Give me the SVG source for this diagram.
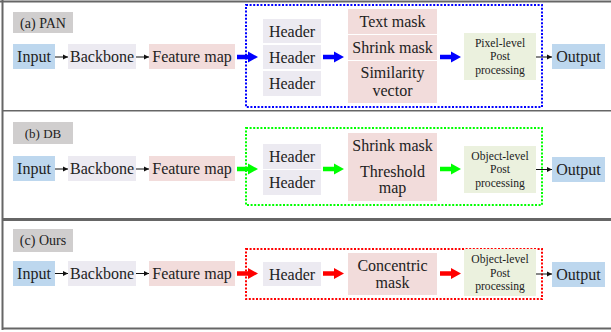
<svg xmlns="http://www.w3.org/2000/svg" xmlns:xlink="http://www.w3.org/1999/xlink" width="611" height="332" viewBox="0 0 611 332">
<style>
text{font-family:"Liberation Serif","DejaVu Serif",serif;fill:#222;text-anchor:middle}
.t16{font-size:16px}
.t14{font-size:14px}
.t13{font-size:13px}
.t11{font-size:11.6px}
.lbl{fill:#d0cece}
.in{fill:#bdd7ee}
.bb{fill:#eceaf1}
.fm{fill:#f2dcdb}
.pp{fill:#ebf1de}
.frame{stroke:#666;fill:none}
.thin{stroke:#111;stroke-width:1;fill:none;marker-end:url(#ah)}
.dot{fill:none;stroke-width:2;stroke-dasharray:2 1.6}
</style>
<defs>
<marker id="ah" markerWidth="6" markerHeight="6" refX="5" refY="3" orient="auto" markerUnits="userSpaceOnUse">
<path d="M0,0.6 L5,3 L0,5.4 Z" fill="#111"/>
</marker>
<path id="big" d="M0,-2.3 H11 V-5.6 L21,0 L11,5.6 V2.3 H0 Z"/>
</defs>
<g id="frame">
<line class="frame" x1="0" y1="1.5" x2="611" y2="1.5" stroke-width="2"/>
<line class="frame" x1="2.5" y1="0" x2="2.5" y2="330" stroke-width="2"/>
<line class="frame" x1="2" y1="110.8" x2="611" y2="110.8" stroke-width="1.6"/>
<line class="frame" x1="2" y1="219.5" x2="611" y2="219.5" stroke-width="3"/>
<line class="frame" x1="2" y1="328.5" x2="611" y2="328.5" stroke-width="2"/>
</g>
<!-- Panel A -->
<g id="a-label"><rect class="lbl" x="13" y="12" width="60" height="21"/><text class="t14" x="43" y="27.5">(a) PAN</text></g>
<g id="a-input"><rect class="in" x="13" y="44" width="42" height="25"/><text class="t16" x="34" y="62">Input</text></g>
<g id="a-backbone"><rect class="bb" x="68" y="44" width="68" height="25"/><text class="t16" x="102" y="62">Backbone</text></g>
<g id="a-feature"><rect class="fm" x="149" y="44" width="86" height="25"/><text class="t16" x="192" y="62">Feature map</text></g>
<g id="a-group"><rect class="dot" x="246" y="5" width="296" height="102" stroke="#0000ff"/></g>
<g id="a-header1"><rect class="bb" x="263" y="19" width="58" height="24"/><text class="t16" x="292" y="36.5">Header</text></g>
<g id="a-header2"><rect class="bb" x="263" y="45" width="58" height="24"/><text class="t16" x="292" y="62.5">Header</text></g>
<g id="a-header3"><rect class="bb" x="263" y="71" width="58" height="25"/><text class="t16" x="292" y="88.5">Header</text></g>
<g id="a-textmask"><rect class="fm" x="348" y="9" width="89" height="25"/><text class="t16" x="392.5" y="26.5">Text mask</text></g>
<g id="a-shrinkmask"><rect class="fm" x="348" y="35" width="89" height="25"/><text class="t16" x="392.5" y="52.5">Shrink mask</text></g>
<g id="a-similarity"><rect class="fm" x="348" y="61" width="89" height="42"/><text class="t16" x="392.5" y="78">Similarity</text><text class="t16" x="392.5" y="96">vector</text></g>
<g id="a-post"><rect class="pp" x="464" y="33" width="72" height="47"/><text class="t11" x="500" y="46.5">Pixel-level</text><text class="t11" x="500" y="60">Post</text><text class="t11" x="500" y="73.5">processing</text></g>
<g id="a-output"><rect class="in" x="552" y="44" width="53" height="25"/><text class="t16" x="578.5" y="62">Output</text></g>
<!-- Panel B -->
<g id="b-label"><rect class="lbl" x="13" y="122" width="60" height="22"/><text class="t13" x="43" y="137.5">(b) DB</text></g>
<g id="b-input"><rect class="in" x="13" y="156" width="42" height="25"/><text class="t16" x="34" y="174">Input</text></g>
<g id="b-backbone"><rect class="bb" x="68" y="156" width="68" height="25"/><text class="t16" x="102" y="174">Backbone</text></g>
<g id="b-feature"><rect class="fm" x="149" y="156" width="86" height="25"/><text class="t16" x="192" y="174">Feature map</text></g>
<g id="b-group"><rect class="dot" x="246" y="128" width="296" height="77" stroke="#00ff00"/></g>
<g id="b-header1"><rect class="bb" x="263" y="144" width="58" height="25"/><text class="t16" x="292" y="162">Header</text></g>
<g id="b-header2"><rect class="bb" x="263" y="170" width="58" height="25"/><text class="t16" x="292" y="188">Header</text></g>
<g id="b-masks"><rect class="fm" x="348" y="133" width="89" height="68"/><text class="t16" x="392.5" y="150.5">Shrink mask</text><text class="t16" x="392.5" y="176.5">Threshold</text><text class="t16" x="392.5" y="193">map</text></g>
<g id="b-post"><rect class="pp" x="464" y="146" width="72" height="47"/><text class="t11" x="500" y="159.5">Object-level</text><text class="t11" x="500" y="173">Post</text><text class="t11" x="500" y="186.5">processing</text></g>
<g id="b-output"><rect class="in" x="552" y="157" width="53" height="25"/><text class="t16" x="578.5" y="175">Output</text></g>
<!-- Panel C -->
<g id="c-label"><rect class="lbl" x="13" y="229" width="60" height="23"/><text class="t14" x="43" y="245">(c) Ours</text></g>
<g id="c-input"><rect class="in" x="13" y="261" width="42" height="25"/><text class="t16" x="34" y="279">Input</text></g>
<g id="c-backbone"><rect class="bb" x="68" y="261" width="68" height="25"/><text class="t16" x="102" y="279">Backbone</text></g>
<g id="c-feature"><rect class="fm" x="149" y="261" width="86" height="25"/><text class="t16" x="192" y="279">Feature map</text></g>
<g id="c-group"><rect class="dot" x="246" y="249" width="296" height="50" stroke="#ff0000"/></g>
<g id="c-header"><rect class="bb" x="263" y="262" width="58" height="24"/><text class="t16" x="292" y="279.5">Header</text></g>
<g id="c-mask"><rect class="fm" x="348" y="253" width="89" height="42"/><text class="t16" x="392.5" y="270.5">Concentric</text><text class="t16" x="392.5" y="287.5">mask</text></g>
<g id="c-post"><rect class="pp" x="464" y="249" width="72" height="47"/><text class="t11" x="500" y="263">Object-level</text><text class="t11" x="500" y="276.5">Post</text><text class="t11" x="500" y="290">processing</text></g>
<g id="c-output"><rect class="in" x="552" y="262" width="53" height="25"/><text class="t16" x="578.5" y="280">Output</text></g>
<g id="connectors">
<line class="thin" x1="55" y1="57" x2="68" y2="57"/>
<line class="thin" x1="136" y1="57" x2="149" y2="57"/>
<line class="thin" x1="536" y1="57" x2="552" y2="57"/>
<use xlink:href="#big" href="#big" x="237" y="57" fill="#0000ff"/>
<use xlink:href="#big" href="#big" x="323" y="57" fill="#0000ff"/>
<use xlink:href="#big" href="#big" x="440" y="57" fill="#0000ff"/>
<line class="thin" x1="55" y1="169" x2="68" y2="169"/>
<line class="thin" x1="136" y1="169" x2="149" y2="169"/>
<line class="thin" x1="536" y1="169.5" x2="552" y2="169.5"/>
<use xlink:href="#big" href="#big" x="237" y="169" fill="#00ff00"/>
<use xlink:href="#big" href="#big" x="323" y="169" fill="#00ff00"/>
<use xlink:href="#big" href="#big" x="440" y="169" fill="#00ff00"/>
<line class="thin" x1="55" y1="273.5" x2="68" y2="273.5"/>
<line class="thin" x1="136" y1="273.5" x2="149" y2="273.5"/>
<line class="thin" x1="536" y1="274" x2="552" y2="274"/>
<use xlink:href="#big" href="#big" x="237" y="273.5" fill="#ff0000"/>
<use xlink:href="#big" href="#big" x="323" y="273.5" fill="#ff0000"/>
<use xlink:href="#big" href="#big" x="440" y="273.5" fill="#ff0000"/>
</g>
</svg>
